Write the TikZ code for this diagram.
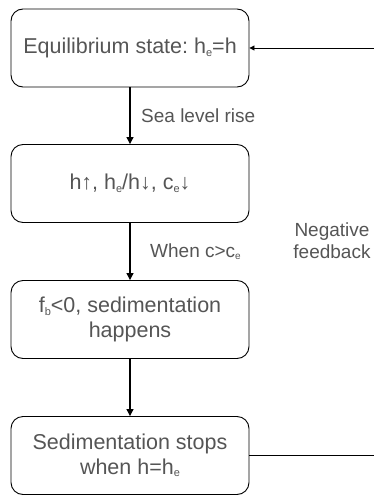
\documentclass[tikz,border=0pt]{standalone}
\usepackage{fontspec}
\setmainfont{Liberation Sans}
\usetikzlibrary{arrows.meta}
\definecolor{txt}{RGB}{85,85,85}
\frenchspacing
\newcommand{\subx}[1]{\raisebox{-2.5pt}{\fontsize{11}{11}\selectfont #1}}
\newcommand{\subl}[1]{\raisebox{-2pt}{\fontsize{10}{10}\selectfont #1}}
\begin{document}
\begin{tikzpicture}[x=1pt,y=-1pt,
  box/.style={draw=black,line width=0.9pt,rounded corners=12pt,minimum width=238pt,minimum height=78pt,align=center,text=txt,font=\fontsize{21.5}{25}\selectfont,inner sep=2pt},
  lbl/.style={text=txt,font=\fontsize{19}{22}\selectfont,align=center,inner sep=0pt},
  arr/.style={line width=1.2pt,-{Triangle[length=7pt,width=7pt]}},
  farr/.style={line width=0.9pt,-{Triangle[length=5pt,width=5pt]}}]
\useasboundingbox (0,0) rectangle (374,495);
\node[box] (b1) at (130,48) {Equilibrium state: h\subx{e}=h};
\node[box] (b2) at (130,183.5) {h↑, h\subx{e}/h↓, c\subx{e}↓};
\node[box] (b3) at (130,319.5) {f\subx{b}<0, sedimentation\\happens};
\node[box] (b4) at (130,455.5) {Sedimentation stops\\when h=h\subx{e}};
\draw[arr] (b1) -- (b2);
\draw[arr] (b2) -- (b3);
\draw[arr] (b3) -- (b4);
\node[lbl,anchor=west] (l1) at (141,116) {Sea level rise};
\node[lbl,anchor=west] (l2) at (150,252) {When c>c\subl{e}};
\node[lbl] (l3) at (332,241) {Negative\\feedback};
\coordinate (r1) at (374,48);
\draw[line width=0.9pt] (b4.east) -- (b4.east -| r1);
\draw[farr] (r1) -- (b1.east);
\end{tikzpicture}
\end{document}
